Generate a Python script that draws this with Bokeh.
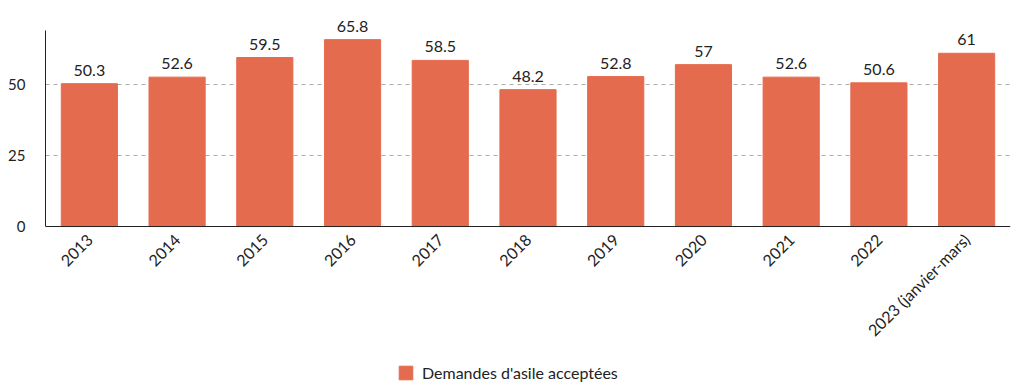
from bokeh.plotting import figure
from bokeh.models import ColumnDataSource, FixedTicker, Legend, LegendItem, LabelSet, Range1d
from bokeh.embed import file_html
from bokeh.resources import INLINE
from bokeh.core.properties import value
import math

categories = ["2013", "2014", "2015", "2016", "2017", "2018", "2019", "2020", "2021", "2022", "2023 (janvier-mars)"]
values = [50.3, 52.6, 59.5, 65.8, 58.5, 48.2, 52.8, 57, 52.6, 50.6, 61]
labels = ["50.3", "52.6", "59.5", "65.8", "58.5", "48.2", "52.8", "57", "52.6", "50.6", "61"]
series_name = "Demandes d'asile acceptées"
yticks = [0, 25, 50]

color = "#E56B4E"
font = "Lato"

src = ColumnDataSource(dict(cat=categories, val=values, lab=labels))

p = figure(x_range=categories, y_range=Range1d(-57.7, 75), frame_width=965, frame_height=377,
           output_backend="svg", toolbar_location=None,
           min_border_left=45, min_border_right=14, min_border_top=13, min_border_bottom=0)
p.outline_line_color = None

r = p.vbar(x="cat", top="val", bottom=0, width=0.64, source=src, fill_color=color, line_color=color)

lbl = LabelSet(x="cat", y="val", text="lab", source=src, text_align="center", text_baseline="bottom",
               y_offset=8, text_font=value(font), text_font_size="16px", text_color="#222222")
p.add_layout(lbl)

p.xgrid.grid_line_color = None
p.ygrid.ticker = FixedTicker(ticks=[25, 50])
p.ygrid.grid_line_color = "#aaaaaa"
p.ygrid.grid_line_dash = "4 4"

p.yaxis.ticker = FixedTicker(ticks=yticks)
p.yaxis.bounds = (0, 69)
p.yaxis.major_tick_line_color = None
p.yaxis.minor_tick_line_color = None
p.yaxis.axis_line_color = "#222222"
p.yaxis.major_label_text_font = font
p.yaxis.major_label_text_font_size = "15px"
p.yaxis.major_label_text_color = "#222222"
p.yaxis.major_label_standoff = 14

p.xaxis.fixed_location = 0
p.xaxis.major_tick_line_color = None
p.xaxis.major_tick_out = 0
p.xaxis.major_tick_in = 0
p.xaxis.minor_tick_out = 0
p.xaxis.major_label_standoff = 10
p.xaxis.axis_line_color = "#222222"
p.xaxis.major_label_orientation = math.pi / 4
p.xaxis.major_label_text_font = font
p.xaxis.major_label_text_font_size = "16px"
p.xaxis.major_label_text_color = "#222222"

legend = Legend(items=[LegendItem(label=series_name, renderers=[r])], location=(352, 8),
                orientation="horizontal", label_text_font=font, label_text_font_size="16px",
                label_text_color="#222222", border_line_color=None, background_fill_alpha=0,
                glyph_width=17, glyph_height=17, label_standoff=8,
                margin=0, padding=0)
p.add_layout(legend, "center")

open("out.html", "w").write(file_html(p, INLINE))
